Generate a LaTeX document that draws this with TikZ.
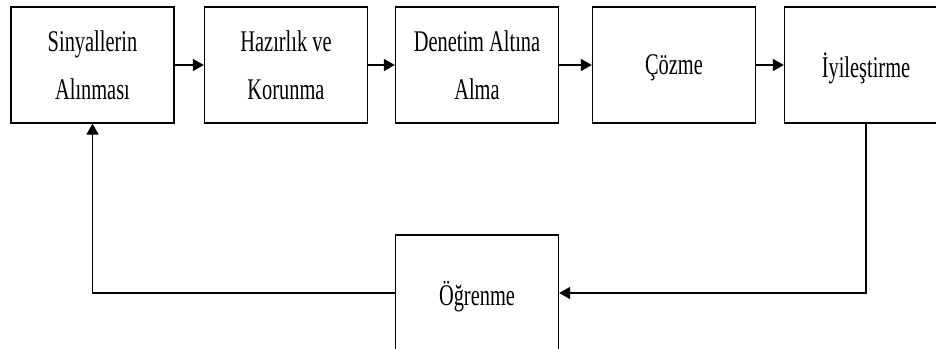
\documentclass[tikz,border=0pt]{standalone}
\usepackage{fontspec}
\setmainfont{Liberation Serif}[FakeStretch=0.68]
\usetikzlibrary{arrows.meta}
\tikzset{
  blok/.style={draw, line width=1.3pt, minimum width=163pt, minimum height=116pt,
    align=center, text depth=0pt, font=\fontsize{30}{48}\selectfont},
  ok/.style={-{Triangle[length=11pt,width=12pt]}, line width=1.5pt}
}
\begin{document}
\begin{tikzpicture}[x=1pt,y=-1pt]
      \useasboundingbox (0,0) rectangle (936,348);
      \draw
        (92.5,65) node[blok] (sinyal){Sinyallerin\\Alınması}
        (286,65) node[blok] (hazirlik){Hazırlık ve\\Korunma}
        (477,65) node[blok] (denetim){Denetim Altına\\Alma}
        (674,65) node[blok] (cozme){Çözme}
        (866,65) node[blok] (iyi){İyileştirme}
        (477,293) node[blok] (ogrenme){Öğrenme};
      \begin{scope}[ok]
        \draw (sinyal) to (hazirlik);
        \draw (hazirlik) to (denetim);
        \draw (denetim) to (cozme);
        \draw (cozme) to (iyi);
        \draw (iyi.south) |- (ogrenme.east);
        \draw (ogrenme.west) -| (sinyal.south);
      \end{scope}
    \end{tikzpicture}
\end{document}
